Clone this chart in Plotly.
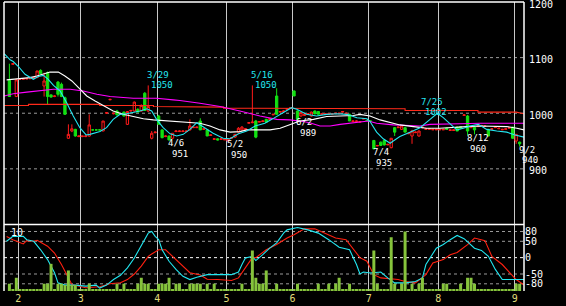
import plotly.graph_objects as go

# ---------------- data ----------------
# trading-day index 0 = 2022-01-27 ... 147 = 2022-09-02
month_labels = ["2", "3", "4", "5", "6", "7", "8", "9"]
month_start_idx = [3, 21, 43, 63, 82, 104, 124, 146]

opens = [1059,1088,1030,1061,1061,1062,1062,1063,1064,1077,
         1049,1073,1033,1030,1056,1052,1028,955,968,971,
         958,958,958,959,970,970,970,968,1000,1024,
         999,1004,998,1002,980,1004,1004,1007,1004,1036,
         1004,955,965,995,970,958,959,955,967,967,
         967,967,970,974,974,986,971,970,960,953,
         954,953,952,950,955,957,966,970,971,982,
         983,986,984,985,989,989,997,1031,1002,1003,
         1007,1009,1040,1004,995,996,998,995,1004,1003,
         998,998,998,998,999,999,1002,999,998,985,
         985,984,990,987,986,951,941,948,951,943,
         938,974,974,971,974,963,959,965,959,974,
         971,971,970,970,970,970,973,969,969,975,
         976,996,995,974,975,976,977,976,971,971,
         974,972,970,971,973,975,950,948]
highs = [1089,1090,1062,1062,1062,1063,1063,1064,1076,1079,
         1073,1075,1034,1032,1058,1055,1030,980,980,972,
         960,959,960,998,971,971,971,986,1002,1025,
         1001,1006,1000,1003,1004,1006,1021,1009,1016,1038,
         1050,968,967,997,971,960,960,964,969,969,
         969,969,989,976,976,991,973,971,962,955,
         955,955,954,954,957,962,975,977,973,984,
         1050,988,986,987,990,991,999,1045,1004,1005,
         1009,1011,1041,1005,1002,999,1000,1003,1005,1004,
         1000,1000,1000,1000,1001,1001,1004,1001,999,987,
         987,986,991,988,987,952,943,949,953,945,
         955,975,976,978,975,965,970,967,969,976,
         973,973,972,972,972,972,974,971,971,976,
         977,998,997,976,976,978,979,978,972,973,
         976,974,972,973,975,976,962,949]
lows = [1030,1088,1030,1060,1061,1061,1062,1062,1064,1071,
        1030,1016,1028,1029,1030,1029,997,954,966,958,
        957,957,957,958,969,969,969,968,999,1024,
        998,996,997,994,979,1003,1003,1002,1003,1004,
        1002,953,964,980,955,957,951,954,967,967,
        967,967,969,974,974,970,970,959,960,953,
        951,953,952,950,955,956,965,969,971,982,
        982,955,984,985,984,989,997,998,1002,1003,
        1007,1009,1031,989,994,995,998,994,998,998,
        998,998,998,998,999,999,1002,999,986,985,
        985,984,990,987,986,935,941,942,942,943,
        937,959,974,970,966,963,945,965,958,973,
        971,971,970,970,970,970,970,969,969,968,
        972,996,960,974,962,976,977,976,959,971,
        974,972,970,971,973,954,945,940]
closes = [1030,1089,1060,1061,1062,1062,1063,1064,1076,1071,
          1058,1030,1029,1031,1034,1030,998,962,972,959,
          959,959,959,979,970,970,970,986,1001,1025,
          1000,997,999,995,1003,1005,1020,1002,1014,1005,
          1012,964,966,980,956,959,952,964,968,968,
          968,968,977,975,975,970,972,959,961,954,
          952,954,953,954,956,962,973,975,972,983,
          984,957,985,986,984,990,998,998,1003,1004,
          1008,1010,1031,989,1001,998,999,1002,999,998,
          999,999,999,999,1000,1000,1003,1000,986,986,
          986,985,990,987,986,936,942,942,943,944,
          955,966,975,977,966,964,968,966,968,975,
          972,972,971,971,971,971,971,970,970,968,
          973,997,968,975,970,977,978,977,959,972,
          975,973,971,972,974,955,962,945]

# volume (units of the "10" scale)
volume = [1.1,0.3,2.0,0.3,0.3,0.3,0.3,0.3,0.3,0.3,
          1.1,1.1,4.1,0.3,1.1,1.1,0.9,3.1,0.9,0.9,
          0.3,0.3,0.3,1.1,0.3,0.3,0.3,0.3,0.3,0.3,
          0.3,1.1,0.3,1.1,0.3,0.3,0.3,1.1,2.0,1.1,
          1.1,0.3,0.3,1.1,1.1,1.1,2.0,0.3,1.1,1.1,
          0.3,0.3,1.1,1.1,1.1,1.1,0.3,1.1,0.3,1.1,
          0.3,0.3,0.3,0.3,0.3,0.3,0.3,1.1,0.3,0.3,
          6.1,2.0,1.1,1.1,3.1,0.3,0.3,1.1,0.3,0.3,
          0.3,0.3,0.3,1.1,0.3,0.3,0.3,0.3,0.3,1.1,
          0.3,0.3,1.1,0.3,1.1,2.0,0.3,0.3,1.1,0.3,
          0.3,0.3,0.3,0.3,0.3,6.1,1.1,0.3,0.3,0.3,
          8.1,1.1,0.3,1.1,9.0,0.3,1.1,0.3,1.1,2.0,
          0.3,0.3,0.3,0.3,0.3,1.1,1.1,0.3,0.3,0.3,
          1.1,0.3,2.0,2.0,1.1,0.3,0.3,0.3,0.3,0.3,
          0.3,0.3,0.3,0.3,0.3,0.3,1.1,1.1]

# moving averages (vertices: day index, price)
ma_cyan_x = [-1.5,0.2,1.1,2.6,4.5,5.9,6.9,8.3,9.8,11.2,12.7,14.6,16.5,18.4,20.3,22.1,23.2,26.1,28,29.9,
             31.9,33.8,35.7,37.6,39.6,41,42.4,44.3,46.3,48.2,50.1,52,54,56.4,58.7,61.6,63.6,66,68.4,70.8,
             73.6,75.6,78,79.9,81.3,82.8,85.6,88.5,91.4,94.3,97.2,100.1,103,103.9,105.8,107.7,109.7,110.6,112.5,115.4,
             118.3,121.2,123.3,125,127,128.9,130.8,132.7,135.1,137.5,140.4,143.3,145.7,148.3]
ma_cyan_y = [1107,1096,1093,1084,1070,1064,1061,1066,1068,1061,1050,1040,1019,995,974,961,962,967,974,989,
             998,999,1001,1004,1008,1004,989,974,963,959,962,971,983,974,964,955,954,963,968,977,
             982,989,998,1004,1010,1007,998,995,998,999,998,992,990,985,966,954,946,950,958,966,
             974,989,1000,992,980,970,973,977,980,971,968,966,961,957]
ma_white_x = [-0.8,1.1,3,5.9,7.9,9.8,11.7,14.1,16,18,20.3,22.3,24.7,27.1,29.9,32.8,35.7,38.6,41.5,45.3,
              49.1,52,54.9,57.8,60.7,63.6,66.4,68.4,72.2,75.1,78,80.8,83.7,87.6,91.4,95.3,99.1,101,103.9,106.8,
              109.7,112.5,116.4,120.2,124,127.9,131.8,135.6,139.4,143.3,146.2,148.3]
ma_white_y = [1060,1061,1063,1064,1067,1071,1074,1074,1067,1058,1044,1031,1022,1013,1004,998,994,990,988,986,
              985,983,982,977,970,966,967,970,970,970,973,980,986,989,994,995,996,998,995,988,
              983,979,976,973,973,975,976,977,977,976,973,970]
ma_magenta_x = [-1.5,1.1,5,8.8,12.7,17.5,21.3,25.2,29,35.7,42.4,47.2,49.1,54.9,60.7,66.4,72.2,77,80.8,84.7,
                86.5,89.5,92.4,95.3,100.1,103.4,105.8,110.6,118.3,121.2,129.8,135.6,148.3]
ma_magenta_y = [1031,1035,1038,1041,1043,1043,1040,1034,1030,1027,1027,1024,1023,1018,1012,1004,995,989,988,985,
                983,977,977,980,984,986,982,979,977,980,981,982,982]
ma_red_x = [-1.5,5.5,5.5,26,26,41.5,41.5,49,49,61.7,61.7,81.7,81.7,114,114,135,135,146,148.3]
ma_red_y = [1014,1014,1016,1016,1014,1014,1012,1012,1011,1011,1009,1009,1008,1008,1005,1005,1002,1002,999]

# oscillator (vertices: day index, value)
osc_cyan_x = [-0.8,1,4,5,7,9,11,13,14,16,19,22,25,26,28,30,32,34,36,38,
              40,41,42,43,44,46,48,50,52,54,57,64,66,67,68,70,71,73,75,77,
              79,80,83,86,89,92,95,98,100,101,102,104,107,109,111,114,117,119,120,123,
              125,127,129,131,134,136,138,140,142,145,148.3]
osc_cyan_y = [50,65,65,55,50,24,-6,-46,-77,-84,-84,-87,-84,-93,-84,-67,-54,-31,-1,35,
              75,80,65,55,24,-11,-36,-57,-67,-60,-52,-52,-44,-21,-1,4,-9,9,29,45,
              75,85,92,85,75,55,32,24,-21,-50,-44,-47,-44,-62,-77,-77,-73,-62,-21,29,
              40,55,68,58,29,22,4,-36,-67,-67,-67]
osc_red_x = [-0.8,1,4,5,7,8,11,13,15,17,18,22,26,29,32,34,36,38,40,41,
             43,45,47,49,52,55,57,60,64,66,68,70,71,74,77,80,82,85,88,91,
             94,97,99,101,103,105,107,110,112,114,117,120,122,125,127,129,132,134,137,139,
             142,144,146,148.3]
osc_red_y = [65,55,42,52,50,53,35,14,-21,-62,-82,-92,-89,-80,-77,-67,-50,-26,4,11,
             24,24,4,-14,-46,-53,-66,-67,-70,-62,-31,0,0,24,40,60,70,88,88,75,
             60,55,29,0,-11,-52,-62,-64,-67,-73,-77,-52,-16,-6,9,16,40,60,52,4,
             -21,-44,-67,-84]

# high / low labels: (day index, date text, value, kind)
label_idx = [40, 46, 63, 70, 83, 105, 119, 132, 147]
label_date = ["3/29", "4/6", "5/2", "5/16", "6/2", "7/4", "7/25", "8/12", "9/2"]
label_val = [1050, 951, 950, 1050, 989, 935, 1002, 960, 940]
label_kind = ["high", "low", "low", "high", "low", "low", "high", "low", "low"]

price_ticks = [900, 1000, 1100, 1200]
osc_ticks = [-80, -50, 0, 50, 80]
osc_tick_text = ["-80", "-50", "0", "50", "80"]
volume_scale_label = "10"

# ---------------- figure ----------------
FONT = "DejaVu Sans Mono"
N = len(opens)
days = list(range(N))
X_RANGE = [-1.553, 148.26]
fig = go.Figure()

fig.add_trace(go.Candlestick(
    x=days, open=opens, high=highs, low=lows, close=closes,
    xaxis="x", yaxis="y",
    increasing=dict(line=dict(color="#ff1a1a", width=1), fillcolor="#000000"),
    decreasing=dict(line=dict(color="#12e012", width=1), fillcolor="#12e012"),
    whiskerwidth=0, showlegend=False, hoverinfo="skip"))

for xs, ys, col in [(ma_red_x, ma_red_y, "#ff2a1a"),
                    (ma_magenta_x, ma_magenta_y, "#ff00ff"),
                    (ma_white_x, ma_white_y, "#ffffff"),
                    (ma_cyan_x, ma_cyan_y, "#22e6f0")]:
    fig.add_trace(go.Scatter(x=xs, y=ys, mode="lines", xaxis="x", yaxis="y",
                             line=dict(color=col, width=1.1), showlegend=False,
                             hoverinfo="skip"))

fig.add_trace(go.Bar(x=days, y=volume, xaxis="x2", yaxis="y3", width=0.86,
                     marker=dict(color="#86c43c", line=dict(width=0)),
                     showlegend=False, hoverinfo="skip"))
fig.add_trace(go.Scatter(x=osc_red_x, y=osc_red_y, mode="lines", xaxis="x2", yaxis="y2",
                         line=dict(color="#ff2010", width=1.1), showlegend=False, hoverinfo="skip"))
fig.add_trace(go.Scatter(x=osc_cyan_x, y=osc_cyan_y, mode="lines", xaxis="x2", yaxis="y2",
                         line=dict(color="#22e6f0", width=1.1), showlegend=False, hoverinfo="skip"))

grid_vals = [m - 0.43 for m in month_start_idx]
PLOT_H = 291.0
SPLIT = 67 / PLOT_H

shapes = []
for v in [900, 1000, 1100]:
    shapes.append(dict(type="line", xref="paper", yref="y", x0=0, x1=1, y0=v, y1=v,
                       line=dict(color="#9a9a9a", width=1, dash="3px,3px"), layer="below"))
for v in osc_ticks:
    shapes.append(dict(type="line", xref="paper", yref="y2", x0=0, x1=1, y0=v, y1=v,
                       line=dict(color="#ffffff" if v == 0 else "#9a9a9a", width=1,
                                 dash="3px,3px"), layer="below"))
# white frame
for (x0, y0, x1, y1) in [(0, 1, 1, 1), (0, 0, 0, 1), (1, 0, 1, 1), (0, SPLIT, 1, SPLIT)]:
    shapes.append(dict(type="line", xref="paper", yref="paper", x0=x0, x1=x1, y0=y0, y1=y1,
                       line=dict(color="#ffffff", width=1.5), layer="above"))

annotations = []
LABEL_FONT = 9
for i, d, v, k in zip(label_idx, label_date, label_val, label_kind):
    col = "#22e6f0" if k == "high" else "#ffffff"
    ys_date, ys_val = (10.5, 0) if k == "high" else (-3, -13.5)
    annotations.append(dict(x=i, y=v, xref="x", yref="y", text=d, showarrow=False,
                            xanchor="left", yanchor="middle", xshift=-3, yshift=ys_date,
                            font=dict(family=FONT, size=LABEL_FONT, color=col)))
    annotations.append(dict(x=i, y=v, xref="x", yref="y", text=str(v), showarrow=False,
                            xanchor="left", yanchor="middle", xshift=0.5, yshift=ys_val,
                            font=dict(family=FONT, size=LABEL_FONT, color=col)))
# price scale labels (right side)
for t in price_ticks:
    annotations.append(dict(x=(527 - 4) / 520.0, y=t, xref="paper", yref="y", text=str(t),
                            showarrow=False, xanchor="left", yanchor="middle", yshift=-2,
                            font=dict(family=FONT, size=10, color="#ffffff")))
annotations.append(dict(x=(9 - 4) / 520.0, y=SPLIT - 1 / PLOT_H, xref="paper", yref="paper",
                        text=volume_scale_label, showarrow=False, xanchor="left", yanchor="top",
                        font=dict(family=FONT, size=10, color="#ffffff")))

fig.update_layout(
    width=566, height=306,
    margin=dict(l=4, r=42, t=2, b=13),
    paper_bgcolor="#000000", plot_bgcolor="#000000",
    boxgap=0.05,
    showlegend=False,
    shapes=shapes, annotations=annotations,
    xaxis=dict(domain=[0, 1], range=X_RANGE, anchor="y", tickvals=grid_vals,
               showticklabels=False, showgrid=True, gridcolor="#c8c8c8", gridwidth=1,
               zeroline=False, showline=False, ticks="", rangeslider=dict(visible=False),
               fixedrange=True),
    xaxis2=dict(domain=[0, 1], range=X_RANGE, anchor="y2", tickvals=grid_vals,
                ticktext=month_labels, showticklabels=True, showgrid=True,
                gridcolor="#c8c8c8", gridwidth=1, zeroline=False, showline=False, ticks="",
                tickfont=dict(family=FONT, size=10, color="#e0dc7a"), fixedrange=True),
    yaxis=dict(domain=[SPLIT, 1], range=[800, 1200], side="right", anchor="x",
               showticklabels=False, showgrid=False, zeroline=False, showline=False,
               ticks="", fixedrange=True),
    yaxis2=dict(domain=[0, SPLIT], range=[-102, 101.5], side="right", anchor="x2",
                tickvals=osc_ticks, ticktext=osc_tick_text, showgrid=False,
                zeroline=False, showline=False, ticks="",
                tickfont=dict(family=FONT, size=10, color="#ffffff"), fixedrange=True),
    yaxis3=dict(domain=[0, SPLIT], range=[0, 10.05], overlaying="y2", anchor="x2",
                visible=False, fixedrange=True),
)

fig.write_html("out.html")
